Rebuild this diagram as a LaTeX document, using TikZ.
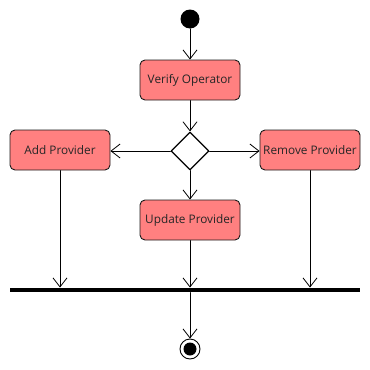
\documentclass[tikz,border=0pt]{standalone}
\usepackage{fontspec}
\setmainfont{Open Sans}
\usepackage{xcolor}
\usepackage{tikz}
\usetikzlibrary{arrows.meta,shapes.geometric}
\definecolor{actfill}{HTML}{FF8080}
\definecolor{actline}{HTML}{1A1A1A}
\tikzset{
every picture/.style={line cap=round,line join=round},
>={Straight Barb[length=9pt,width=14pt]},
act box/.style={
  draw=actline,
  fill=actfill,
  rounded corners=5pt,
  line width=0.9pt,
  minimum width=100pt,
  minimum height=40pt,
  inner sep=0pt,
  font=\fontsize{11.8pt}{13pt}\selectfont,
  text=black!85
},
decision/.style={diamond, draw=black, fill=white, line width=1.2pt, minimum width=38pt, minimum height=38pt, inner sep=0pt},
start dot/.style={circle, fill=black, minimum size=19pt, inner sep=0pt},
end ring/.style={circle, draw=black, fill=white, line width=0.9pt, minimum size=20pt, inner sep=0pt},
end dot/.style={circle, fill=black, minimum size=13pt, inner sep=0pt},
join bar/.style={fill=black, minimum width=350pt, minimum height=4.5pt, inner sep=0pt},
flow/.style={draw=black, ->, line width=0.8pt}
}

\begin{document}
\begin{tikzpicture}[x=1pt,y=-1pt]
\useasboundingbox (0,0) rectangle (370,370);
% nodes
\node[start dot] (start) at (190,19) {};
\node[act box] (verify) at (190,80) {Verify Operator};
\node[decision] (choice) at (190,151) {};
\node[act box] (add) at (60,150) {Add Provider};
\node[act box] (remove) at (310,150) {Remove Provider};
\node[act box] (update) at (190,220) {Update Provider};
\node[join bar] (bar) at (185,290) {};
\node[end ring] (final) at (190,349) {};
\node[end dot] at (final) {};
% connectors
\draw[flow] (start) -- (verify);
\draw[flow] (verify) -- (choice);
\draw[flow] (choice.west) -- (choice.west -| add.east);
\draw[flow] (choice.east) -- (choice.east -| remove.west);
\draw[flow] (choice) -- (update);
\draw[flow] (add) -- (add |- bar.north);
\draw[flow] (remove) -- (remove |- bar.north);
\draw[flow] (update) -- (update |- bar.north);
\draw[flow] (final |- bar.south) -- (final);
\end{tikzpicture}
\end{document}
